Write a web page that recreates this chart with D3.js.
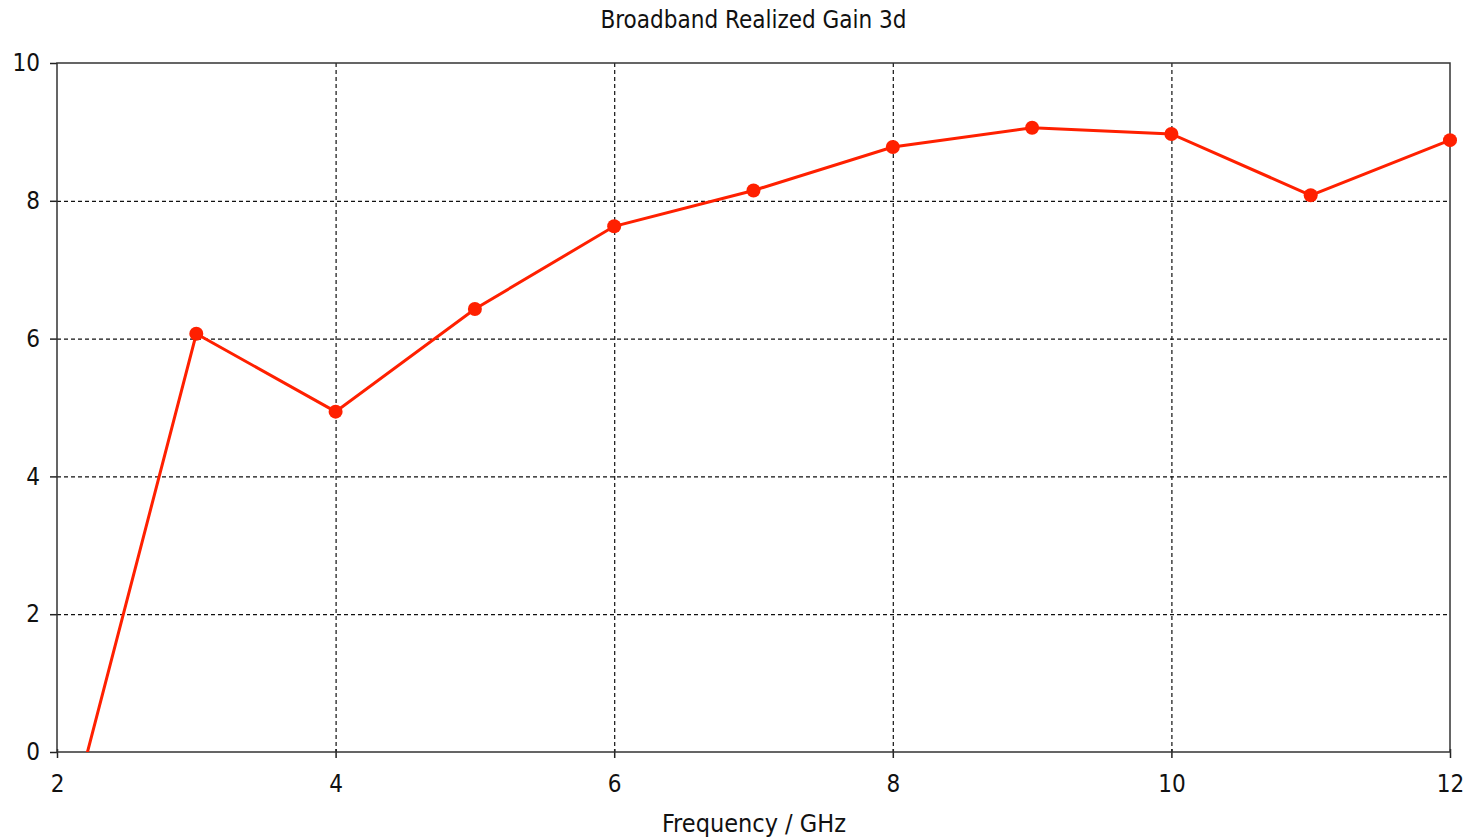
<!DOCTYPE html>
<html><head><meta charset="utf-8">
<script src="https://cdn.jsdelivr.net/npm/d3@7"></script>
<style>body{margin:0;background:#fff;} svg{display:block;}</style>
</head><body>
<svg id="chart" width="1469" height="840"></svg>
<script>
const title = "Broadband Realized Gain 3d";
const xLabel = "Frequency / GHz";
const frequency = [2, 3, 4, 5, 6, 7, 8, 9, 10, 11, 12];
const gain = [-1.7, 6.07, 4.94, 6.43, 7.63, 8.15, 8.78, 9.06, 8.97, 8.08, 8.88];
const xTicks = [2, 4, 6, 8, 10, 12];
const yTicks = [0, 2, 4, 6, 8, 10];

const svg = d3.select("#chart");
const m = {left: 57, right: 1450, top: 63, bottom: 752};
const x = d3.scaleLinear().domain([2, 12]).range([m.left, m.right]);
const y = d3.scaleLinear().domain([0, 10]).range([m.bottom, m.top]);
const font = "'DejaVu Sans Condensed', 'DejaVu Sans', sans-serif";

// grid
const grid = svg.append("g").attr("stroke", "#111").attr("stroke-width", 1.2).attr("stroke-dasharray", "4,3");
grid.selectAll("line.v").data(xTicks.slice(1, -1)).join("line")
  .attr("x1", d => x(d)+0.5).attr("x2", d => x(d)+0.5).attr("y1", m.top).attr("y2", m.bottom);
grid.selectAll("line.h").data(yTicks.slice(1, -1)).join("line")
  .attr("x1", m.left).attr("x2", m.right).attr("y1", d => y(d)+0.5).attr("y2", d => y(d)+0.5);

// axes
const xAxis = d3.axisBottom(x).tickValues(xTicks).tickSize(6).tickPadding(17).tickFormat(d3.format("d"));
const yAxis = d3.axisLeft(y).tickValues(yTicks).tickSize(7).tickPadding(10).tickFormat(d3.format("d"));
const gx = svg.append("g").attr("transform", `translate(0,${m.bottom})`).call(xAxis);
const gy = svg.append("g").attr("transform", `translate(${m.left},0)`).call(yAxis);
[gx, gy].forEach(g => {
  g.select(".domain").remove();
  g.selectAll("line").attr("stroke", "#222").attr("stroke-width", 1.5);
  g.selectAll("text").attr("fill", "#111").style("font-family", font).style("font-size", "24px");
});
gx.selectAll(".tick line").attr("y1", -3);

// frame
svg.append("rect").attr("x", m.left).attr("y", m.top).attr("width", m.right - m.left).attr("height", m.bottom - m.top)
  .attr("fill", "none").attr("stroke", "#333").attr("stroke-width", 1.5);

// clip
svg.append("clipPath").attr("id", "clip").append("rect")
  .attr("x", m.left).attr("y", m.top - 10).attr("width", m.right - m.left + 10).attr("height", m.bottom - m.top + 10);

const data = frequency.map((f, i) => ({f, g: gain[i]}));
const line = d3.line().x(d => x(d.f)).y(d => y(d.g));
const plot = svg.append("g").attr("clip-path", "url(#clip)");
plot.append("path").datum(data).attr("d", line).attr("fill", "none").attr("stroke", "#ff2000").attr("stroke-width", 3);
plot.selectAll("circle").data(data.filter(d => d.g >= 0)).join("circle")
  .attr("cx", d => x(d.f)).attr("cy", d => y(d.g)).attr("r", 7).attr("fill", "#ff2000");

svg.append("text").attr("x", 753.5).attr("y", 28).attr("text-anchor", "middle")
  .style("font-family", font).style("font-size", "24px").attr("fill", "#111").text(title);
svg.append("text").attr("x", 754).attr("y", 832).attr("text-anchor", "middle")
  .style("font-family", font).style("font-size", "25px").attr("fill", "#111").text(xLabel);
</script>
</body></html>
